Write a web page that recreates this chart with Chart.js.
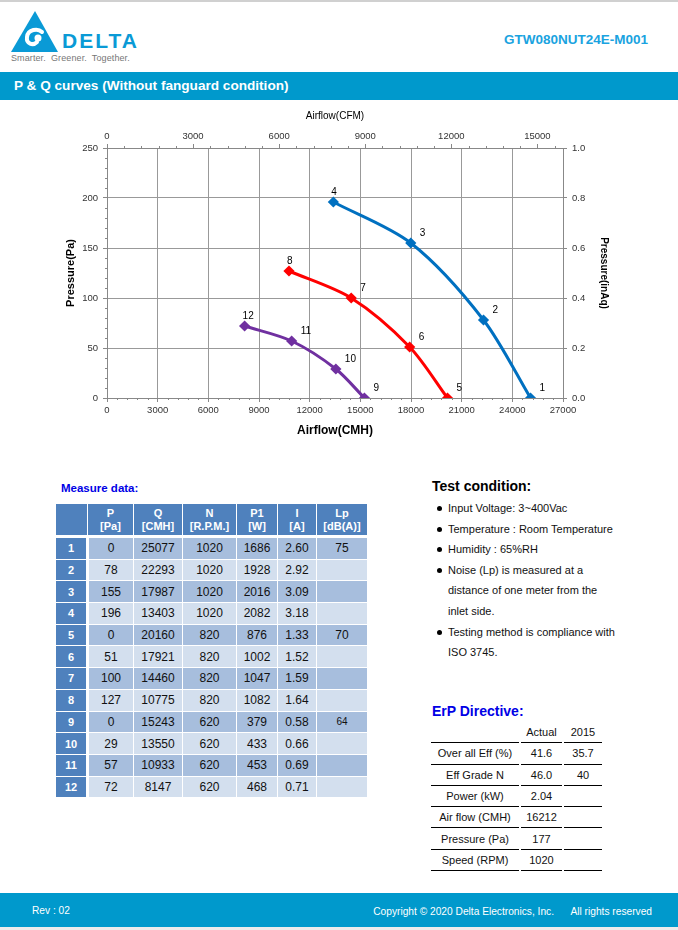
<!DOCTYPE html>
<html>
<head>
<meta charset="utf-8">
<script src="https://cdn.jsdelivr.net/npm/chart.js@4.4.1/dist/chart.umd.min.js"></script>
<style>
  body { margin: 0; width: 678px; height: 930px; position: relative; overflow: hidden; background: #fff; font-family: "Liberation Sans", Arial, sans-serif; }
  .abs { position: absolute; }
  #topline { left: 0; top: 0; width: 678px; height: 2px; background: #d0d0d0; }
  #tagline { left: 11px; top: 53px; font-size: 9px; color: #777; letter-spacing: 0.1px; }
  #logoword { left: 62px; top: 29px; font-size: 21px; font-weight: bold; color: #0a9ad6; letter-spacing: 2px; }
  #model { right: 30px; top: 32px; font-size: 13.5px; font-weight: bold; color: #1aa3e0; }
  #banner { left: 0; top: 72px; width: 678px; height: 28px; background: #0099cc; }
  #banner span { position: absolute; left: 14px; top: 6px; color: #fff; font-weight: bold; font-size: 13.6px; }
  #chartBox { left: 60px; top: 105px; width: 560px; height: 340px; }
  #measTitle { left: 61px; top: 482px; font-size: 11.5px; font-weight: bold; color: #0000e6; }
  #meas { left: 55px; top: 503px; width: 312px; border-collapse: collapse; table-layout: fixed; }
  #meas td, #meas th { border: 1px solid #fff; padding: 0; text-align: center; }
  #meas th { background: #4f81bd; color: #fff; font-size: 11px; line-height: 13px; height: 31px; border-bottom: 3px solid #fff; }
  #meas td { font-size: 12px; color: #111; height: 20.7px; }
  #meas td.no { background: #4f81bd; color: #fff; font-weight: bold; font-size: 11px; border-right: 3px solid #fff; }
  #meas tr.dark td { background: #a7bedd; }
  #meas tr.light td { background: #d3dfee; }
  #meas tr td.no { background: #4f81bd; }
  #testTitle { left: 432px; top: 478px; font-size: 14px; font-weight: bold; color: #000; }
  #testList { left: 437px; top: 498px; font-size: 11px; line-height: 20.6px; color: #111; }
  #testList div { position: relative; padding-left: 11px; }
  #testList div.b::before { content: ""; position: absolute; left: 0; top: 8px; width: 5px; height: 5px; border-radius: 50%; background: #000; }
  #erpTitle { left: 432px; top: 703px; font-size: 14px; font-weight: bold; color: #0000e6; }
  #erp { left: 429px; top: 722px; border-collapse: separate; border-spacing: 2px 0; }
  #erp td { font-size: 11px; color: #111; text-align: center; height: 20.3px; padding: 0; border-bottom: 1px solid #000; }
  #footer { left: 0; top: 893px; width: 678px; height: 34px; background: #0099cc; color: #fff; font-size: 10.2px; }
  #footer .rev { position: absolute; left: 32px; top: 12px; }
  #footer .copy { position: absolute; right: 26px; top: 13px; }
  #bottomline { left: 0; top: 927px; width: 678px; height: 3px; background: #ececec; }
</style>
</head>
<body>
<div class="abs" id="topline"></div>
<svg class="abs" style="left:11px;top:11px" width="48" height="42" viewBox="0 0 48 42">
  <polygon points="24,0 0,41 47,41" fill="#0a9ad6"/>
  <path d="M31,21 C27,17 17,18 16,26 C15,33 22,35 26,31" fill="none" stroke="#fff" stroke-width="4" stroke-linecap="round"/>
  <circle cx="27" cy="27" r="3.5" fill="#fff"/>
</svg>
<div class="abs" id="logoword">DELTA</div>
<div class="abs" id="tagline">Smarter.&nbsp; Greener.&nbsp; Together.</div>
<div class="abs" id="model">GTW080NUT24E-M001</div>
<div class="abs" id="banner"><span>P &amp; Q curves (Without fanguard condition)</span></div>

<div class="abs" id="chartBox"><canvas id="pq"></canvas></div>

<div class="abs" id="measTitle">Measure data:</div>
<table class="abs" id="meas">
  <colgroup><col style="width:32px"><col style="width:46px"><col style="width:49px"><col style="width:54px"><col style="width:41px"><col style="width:39px"><col style="width:51px"></colgroup>
  <thead><tr><th></th><th>P<br>[Pa]</th><th>Q<br>[CMH]</th><th>N<br>[R.P.M.]</th><th>P1<br>[W]</th><th>I<br>[A]</th><th>Lp<br>[dB(A)]</th></tr></thead>
  <tbody id="measBody"></tbody>
</table>

<div class="abs" id="testTitle">Test condition:</div>
<div class="abs" id="testList">
  <div class="b">Input Voltage: 3~400Vac</div>
  <div class="b">Temperature : Room Temperature</div>
  <div class="b">Humidity : 65%RH</div>
  <div class="b">Noise (Lp) is measured at a</div>
  <div>distance of one meter from the</div>
  <div>inlet side.</div>
  <div class="b">Testing method is compliance with</div>
  <div>ISO 3745.</div>
</div>

<div class="abs" id="erpTitle">ErP Directive:</div>
<table class="abs" id="erp">
  <colgroup><col style="width:88px"><col style="width:41px"><col style="width:38px"></colgroup>
  <tbody id="erpBody"></tbody>
</table>

<div class="abs" id="footer"><span class="rev">Rev : 02</span><span class="copy">Copyright © 2020 Delta Electronics, Inc.&nbsp;&nbsp;&nbsp;&nbsp;&nbsp; All rights reserved</span></div>
<div class="abs" id="bottomline"></div>

<script>
// measure data (12 points, 3 speeds of 4 points each)
const measNo = ['1','2','3','4','5','6','7','8','9','10','11','12']
const measP = [0, 78, 155, 196, 0, 51, 100, 127, 0, 29, 57, 72]
const measQ = [25077, 22293, 17987, 13403, 20160, 17921, 14460, 10775, 15243, 13550, 10933, 8147]
const measN = [1020, 1020, 1020, 1020, 820, 820, 820, 820, 620, 620, 620, 620]
const measP1 = [1686, 1928, 2016, 2082, 876, 1002, 1047, 1082, 379, 433, 453, 468]
const measI = ['2.60','2.92','3.09','3.18','1.33','1.52','1.59','1.64','0.58','0.66','0.69','0.71']
const measLp = ['75','','','','70','','','','64','','','']

const seriesColors = ['rgb(0,112,192)', 'rgb(255,0,0)', 'rgb(112,48,160)']

// axis ticks
const cmhTicks = [0, 3000, 6000, 9000, 12000, 15000, 18000, 21000, 24000, 27000]
const cfmTicks = [0, 3000, 6000, 9000, 12000, 15000]
const paTicks = [0, 50, 100, 150, 200, 250]
const inAqTicks = [0, 0.2, 0.4, 0.6, 0.8, 1.0]

// ErP directive
const erpLabels = ['Over all Eff (%)', 'Eff Grade N', 'Power (kW)', 'Air flow (CMH)', 'Pressure (Pa)', 'Speed (RPM)']
const erpActual = ['41.6', '46.0', '2.04', '16212', '177', '1020']
const erp2015 = ['35.7', '40', '', '', '', '']

const CMH_PER_CFM = 1.699

// tables
let rows = ''
measNo.forEach((n, i) => {
  let lpStyle = n == '9' ? ' style="font-size:10px"' : ''
  rows += '<tr class="' + (i % 2 == 0 ? 'dark' : 'light') + '"><td class="no">' + n + '</td><td>' + measP[i] + '</td><td>' + measQ[i] +
    '</td><td>' + measN[i] + '</td><td>' + measP1[i] + '</td><td>' + measI[i] + '</td><td' + lpStyle + '>' + measLp[i] + '</td></tr>'
})
document.getElementById('measBody').innerHTML = rows

let erpRows = '<tr><td></td><td>Actual</td><td>2015</td></tr>'
erpLabels.forEach((l, i) => {
  erpRows += '<tr><td>' + l + '</td><td>' + erpActual[i] + '</td><td>' + erp2015[i] + '</td></tr>'
})
document.getElementById('erpBody').innerHTML = erpRows

// chart datasets, one per speed
let datasets = []
for (let s = 0; s < 3; s++) {
  let pts = []
  for (let i = s * 4; i < s * 4 + 4; i++) pts.push({x: measQ[i], y: measP[i]})
  datasets.push({
    data: pts,
    borderColor: seriesColors[s],
    backgroundColor: seriesColors[s],
    borderWidth: 3,
    pointStyle: 'rectRot',
    pointRadius: 3.5,
    tension: 0.3,
    xAxisID: 'x',
    yAxisID: 'y'
  })
}

const pointNumbers = {
  id: 'pointNumbers',
  afterDatasetsDraw(chart) {
    const c = chart.ctx
    c.save()
    c.font = '10px "Liberation Sans", sans-serif'
    c.fillStyle = '#000'
    c.textAlign = 'left'
    c.textBaseline = 'bottom'
    chart.data.datasets.forEach((ds, s) => {
      chart.getDatasetMeta(s).data.forEach((el, i) => {
        let dx = i == 3 ? -2 : 9
        c.fillText(measNo[s * 4 + i], el.x + dx, el.y - 5)
      })
    })
    c.restore()
  }
}

// small minor tick marks on the axes
const minorTicks = {
  id: 'minorTicks',
  afterDraw(chart) {
    const c = chart.ctx
    const a = chart.chartArea
    c.save()
    c.strokeStyle = '#888'
    c.lineWidth = 1
    c.beginPath()
    for (let v = 600; v < 27000; v += 600) {
      if (v % 3000 == 0) continue
      let px = Math.round(chart.scales.x.getPixelForValue(v)) + 0.5
      c.moveTo(px, a.bottom); c.lineTo(px, a.bottom + 2)
    }
    for (let v = 600; v < 27000 / CMH_PER_CFM; v += 600) {
      if (v % 3000 == 0) continue
      let px = Math.round(chart.scales.x2.getPixelForValue(v)) + 0.5
      c.moveTo(px, a.top); c.lineTo(px, a.top - 2)
    }
    for (let v = 10; v < 250; v += 10) {
      if (v % 50 == 0) continue
      let py = Math.round(chart.scales.y.getPixelForValue(v)) + 0.5
      c.moveTo(a.left, py); c.lineTo(a.left - 2, py)
    }
    c.stroke()
    c.restore()
  }
}

const tickFont = {family: '"Liberation Sans", sans-serif', size: 9.5}
const setTicks = list => scale => { scale.ticks = list.map(v => ({value: v})) }

new Chart(document.getElementById('pq'), {
  type: 'line',
  data: {datasets: datasets},
  plugins: [pointNumbers, minorTicks],
  options: {
    responsive: true,
    maintainAspectRatio: false,
    animation: false,
    layout: {padding: 0},
    plugins: {legend: {display: false}, tooltip: {enabled: false}},
    scales: {
      x: {
        type: 'linear', position: 'bottom', min: 0, max: 27000,
        afterBuildTicks: setTicks(cmhTicks),
        afterFit: s => { s.height = 47 },
        ticks: {color: '#333', font: tickFont, maxRotation: 0, autoSkip: false, padding: 3, callback: v => String(v)},
        grid: {color: '#999', tickLength: 4, tickColor: '#888'},
        border: {color: '#888'},
        title: {display: true, text: 'Airflow(CMH)', color: '#000', font: {family: '"Liberation Sans", sans-serif', size: 12, weight: 'bold'}, padding: {top: 0, bottom: 7}}
      },
      x2: {
        type: 'linear', position: 'top', min: 0, max: 27000 / CMH_PER_CFM,
        afterBuildTicks: setTicks(cfmTicks),
        afterFit: s => { s.height = 43 },
        ticks: {color: '#333', font: tickFont, maxRotation: 0, autoSkip: false, padding: 2, callback: v => String(v)},
        grid: {drawOnChartArea: false, tickLength: 4, tickColor: '#888'},
        border: {color: '#888'},
        title: {display: true, text: 'Airflow(CFM)', color: '#000', font: {family: '"Liberation Sans", sans-serif', size: 10}, padding: {top: 5, bottom: 0}}
      },
      y: {
        type: 'linear', position: 'left', min: 0, max: 250,
        afterBuildTicks: setTicks(paTicks),
        afterFit: s => { s.width = 47 },
        ticks: {color: '#333', font: tickFont, padding: 5},
        grid: {color: '#999', tickLength: 4, tickColor: '#888'},
        border: {color: '#888'},
        title: {display: true, text: 'Pressure(Pa)', color: '#000', font: {family: '"Liberation Sans", sans-serif', size: 11, weight: 'bold'}, padding: {top: 4, bottom: 0}}
      },
      y2: {
        type: 'linear', position: 'right', min: 0, max: 1.0,
        afterBuildTicks: setTicks(inAqTicks),
        afterFit: s => { s.width = 57 },
        ticks: {color: '#333', font: tickFont, padding: 5, callback: v => v.toFixed(1)},
        grid: {drawOnChartArea: false, tickLength: 4, tickColor: '#888'},
        border: {color: '#888'},
        title: {display: true, text: 'Pressure(inAq)', color: '#000', font: {family: '"Liberation Sans", sans-serif', size: 10, weight: 'bold'}, padding: {top: 10, bottom: 0}}
      }
    }
  }
})
</script>
</body>
</html>
